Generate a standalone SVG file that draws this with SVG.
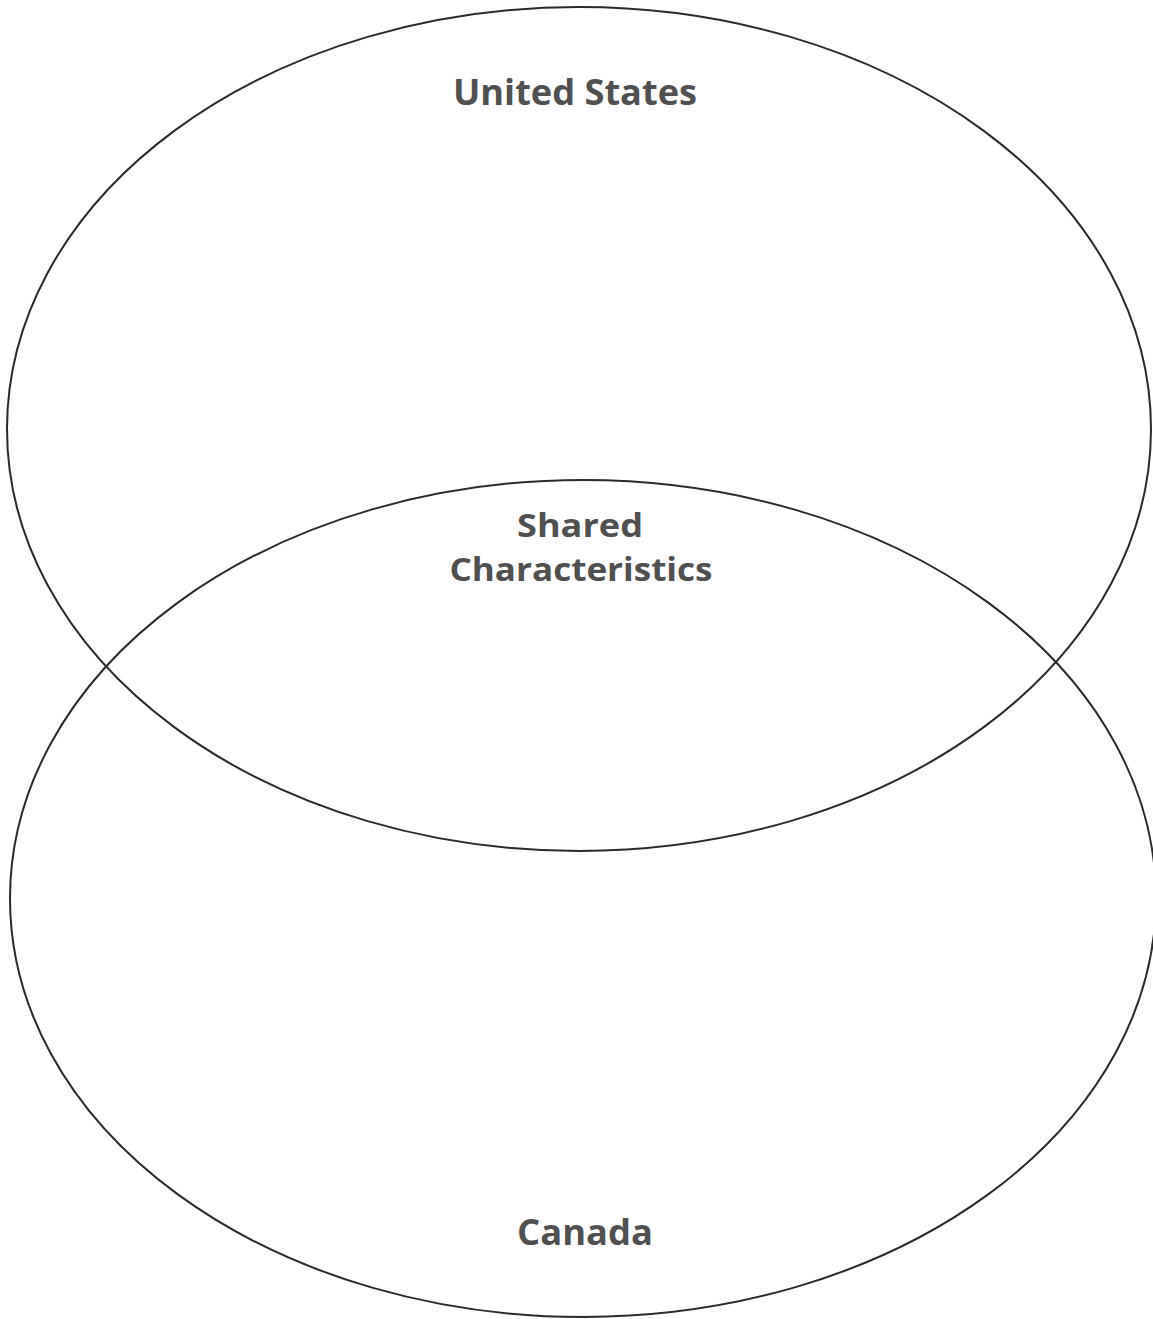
<svg xmlns="http://www.w3.org/2000/svg" width="1153" height="1319" viewBox="0 0 1153 1319">
<style>
.ring{fill:none;stroke:#2a2a2a;stroke-width:2}
.lbl{font-family:"Open Sans","Liberation Sans",sans-serif;font-weight:bold;font-size:36px;fill:#505050;text-anchor:middle}
.sm{font-size:33px}
</style>
<rect width="1153" height="1319" fill="#ffffff"/>
<g id="united-states">
<ellipse class="ring" cx="579" cy="429" rx="572" ry="422"/>
<text class="lbl" x="575" y="105" textLength="244" lengthAdjust="spacingAndGlyphs">United States</text>
</g>
<g id="canada">
<ellipse class="ring" cx="583" cy="898.5" rx="573" ry="418.5"/>
<text class="lbl" x="585" y="1245" textLength="136" lengthAdjust="spacingAndGlyphs">Canada</text>
</g>
<g id="shared">
<text class="lbl sm" x="580" y="537" textLength="126" lengthAdjust="spacingAndGlyphs">Shared</text>
<text class="lbl sm" x="581" y="581" textLength="263" lengthAdjust="spacingAndGlyphs">Characteristics</text>
</g>
<g id="connectors"></g>
</svg>
